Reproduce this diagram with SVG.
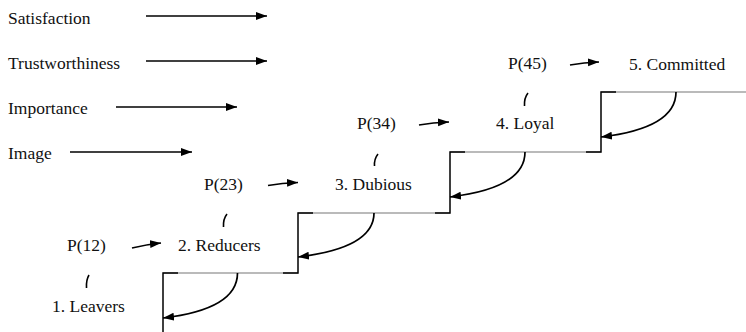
<svg xmlns="http://www.w3.org/2000/svg" width="746" height="332" viewBox="0 0 746 332">
  <style>
    text { font-family: "Liberation Serif", "Times New Roman", serif; font-size: 17.5px; fill: #111; }
    .arr { fill: none; stroke: #000; stroke-width: 1.7; marker-end: url(#head); }
    .step { fill: none; stroke: #000; stroke-width: 1.5; }
    .tread { fill: none; stroke: #777; stroke-width: 1.1; }
    .tick { fill: none; stroke: #000; stroke-width: 1.6; }
  </style>
  <defs>
    <marker id="head" markerUnits="userSpaceOnUse" markerWidth="13" markerHeight="10" refX="11" refY="4" orient="auto">
      <path d="M0,0 L11,4 L0,8 z" fill="#000"/>
    </marker>
  </defs>

  <!-- driver factors -->
  <g id="satisfaction"><text x="8" y="24">Satisfaction</text></g>
  <g id="trustworthiness"><text x="8" y="69">Trustworthiness</text></g>
  <g id="importance"><text x="8" y="114">Importance</text></g>
  <g id="image"><text x="8" y="159">Image</text></g>

  <!-- stages of the staircase -->
  <g id="stage1"><text x="52" y="312">1. Leavers</text></g>
  <g id="stage2"><text x="178" y="251">2. Reducers</text></g>
  <g id="stage3"><text x="335" y="190">3. Dubious</text></g>
  <g id="stage4"><text x="496" y="129">4. Loyal</text></g>
  <g id="stage5"><text x="629" y="70">5. Committed</text></g>

  <!-- transition probabilities -->
  <g id="p12"><text x="67" y="251">P(12)</text></g>
  <g id="p23"><text x="204" y="190">P(23)</text></g>
  <g id="p34"><text x="357" y="129">P(34)</text></g>
  <g id="p45"><text x="508" y="69">P(45)</text></g>

  <!-- staircase outline: grey treads, black risers with short dark corners -->
  <g id="stairs">
    <path class="tread" d="M163,273 H298 M298,213 H450 M450,152 H601 M601,92 H746"/>
    <path class="step" d="M163,332 V273 H178 M283,273 H298 V213 H313 M435,213 H450 V152 H465 M586,152 H601 V92 H616"/>
  </g>

  <g id="connectors">
    <!-- factor arrows -->
    <path class="arr" d="M146,16 H267"/>
    <path class="arr" d="M146,61 H267"/>
    <path class="arr" d="M116,107 H237"/>
    <path class="arr" d="M70,152 H192"/>
    <!-- upward transitions -->
    <path class="arr" d="M132,248 Q146,244.5 161,243"/>
    <path class="arr" d="M268,185.5 Q282,183 298,182.5"/>
    <path class="arr" d="M419,125 Q433,122.5 449,122"/>
    <path class="arr" d="M570,65 Q584,62.5 599,62"/>
    <!-- downward transitions -->
    <path class="arr" d="M237.5,273 C237.5,300 205,313 163,318"/>
    <path class="arr" d="M374,213 C374,240 340,252 298,257"/>
    <path class="arr" d="M525,152 C525,180 492,192 450,197"/>
    <path class="arr" d="M676,92 C676,120 643,132 601,137"/>
    <!-- small arcs below the probabilities -->
    <path class="tick" d="M89,275 Q86,280 86.5,288"/>
    <path class="tick" d="M227,214 Q223,219 223.5,227"/>
    <path class="tick" d="M378,154 Q374,159 374.5,166"/>
    <path class="tick" d="M528,93 Q524,98 524.5,106"/>
  </g>
</svg>
